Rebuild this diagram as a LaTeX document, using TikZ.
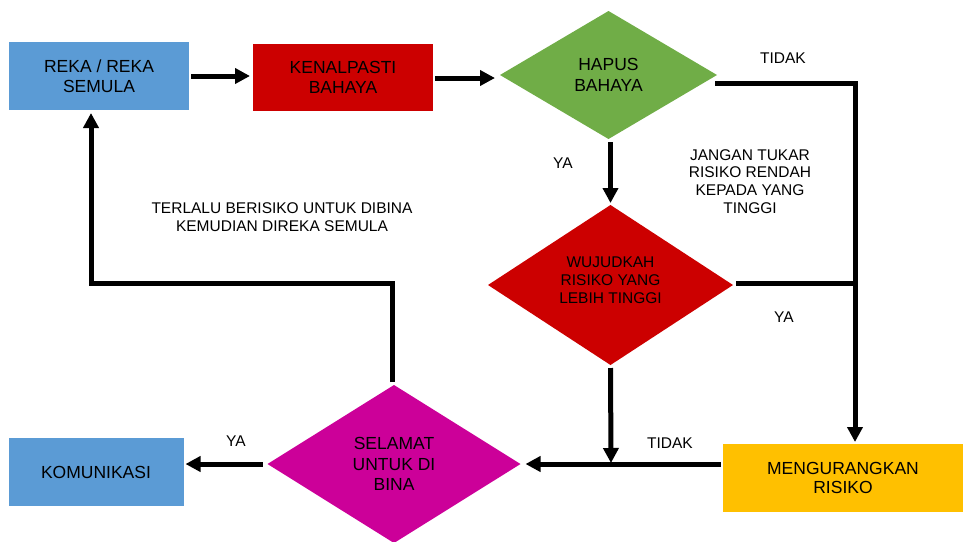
\documentclass[tikz,border=0pt]{standalone}
\usepackage{fontspec}
\setmainfont{Liberation Sans}
\usetikzlibrary{shapes.geometric,arrows.meta}

\definecolor{boxblue}{HTML}{5B9BD5}
\definecolor{boxred}{HTML}{CC0000}
\definecolor{boxgreen}{HTML}{70AD47}
\definecolor{boxyellow}{HTML}{FFC000}
\definecolor{boxmagenta}{HTML}{CC0099}

\tikzset{
  procbox/.style={rectangle, inner sep=0pt, outer sep=0pt, align=center,
    font=\fontsize{17.5}{19.5}\selectfont},
  decision/.style={diamond, inner sep=0pt, outer sep=0pt, align=center,
    font=\fontsize{17.5}{20.5}\selectfont},
  lbl/.style={align=center, inner sep=0pt, font=\fontsize{15.5}{17.7}\selectfont},
  wire/.style={line width=5pt, line join=miter, draw=black},
  conn/.style={wire, -{Triangle[length=15pt,width=15pt]}},
}

\begin{document}
\begin{tikzpicture}[x=1pt,y=-1pt]
\useasboundingbox (0,0) rectangle (963,541);

% process boxes
\node[procbox, fill=boxblue, minimum width=180pt, minimum height=68pt] (reka) at (99,76) {REKA / REKA\\SEMULA};
\node[procbox, fill=boxred, minimum width=180pt, minimum height=67pt] (kenal) at (343,77.5) {KENALPASTI\\BAHAYA};
\node[procbox, fill=boxblue, minimum width=175pt, minimum height=68pt] (komun) at (96,472) {KOMUNIKASI};
\node[procbox, fill=boxyellow, minimum width=240pt, minimum height=68pt] (mengur) at (843,478) {MENGURANGKAN\\RISIKO};

% decisions
\node[decision, fill=boxgreen, minimum width=217pt, minimum height=128pt] (hapus) at (608.5,75) {HAPUS\\BAHAYA};
\node[decision, fill=boxred, minimum width=245pt, minimum height=160pt,
  font=\fontsize{15.5}{18}\selectfont] (wujud) at (610.5,285) {WUJUDKAH\\RISIKO YANG\\LEBIH TINGGI\\[-14pt]\strut};
\node[decision, fill=boxmagenta, minimum width=253pt, minimum height=158pt] (selamat) at (394,464) {SELAMAT\\UNTUK DI\\BINA};

% junction points of the connector network
\coordinate (rc) at (855,83);
\coordinate (lc) at (91,283);
\coordinate (jn) at (611,464);

% connectors
\draw[conn, shorten <=2pt, shorten >=3pt] (reka.east) -- (reka.east -| kenal.west);
\draw[conn, shorten <=2pt, shorten >=5pt] ([yshift=-0.5pt]kenal.east) -- ([yshift=-0.5pt]kenal.east -| hapus.west);
\draw[conn, shorten >=2pt] ([xshift=-2pt,yshift=-8pt]hapus.east) -| ([xshift=12pt]mengur.north);
\draw[conn, shorten <=3pt, shorten >=2pt] (wujud.north |- hapus.south) -- (wujud.north);
\draw[wire] ([xshift=3pt,yshift=2pt]wujud.east) -- ([yshift=2pt]wujud.east -| rc);
\draw[conn, shorten <=3pt, shorten >=1pt] (wujud.south) -- (jn);
\draw[conn, shorten <=2pt, shorten >=5pt] (mengur.west |- selamat.east) -- (selamat.east);
\draw[conn, shorten <=5pt, shorten >=2pt] (selamat.west) -- (selamat.west -| komun.east);
\draw[conn, shorten >=3pt] ([xshift=-2pt,yshift=3pt]selamat.north) |- (lc) -- (lc |- reka.south);

% branch labels
\node[lbl] (tidak1) at (783,58) {TIDAK};
\node[lbl] (ya1) at (563,163) {YA};
\node[lbl] (note1) at (750,181.5) {JANGAN TUKAR\\RISIKO RENDAH\\KEPADA YANG\\TINGGI};
\node[lbl] (ya2) at (784,317) {YA};
\node[lbl] (tidak2) at (670,443) {TIDAK};
\node[lbl] (ya3) at (236,441) {YA};
\node[lbl] (note2) at (282,217) {TERLALU BERISIKO UNTUK DIBINA\\KEMUDIAN DIREKA SEMULA};
\end{tikzpicture}
\end{document}
